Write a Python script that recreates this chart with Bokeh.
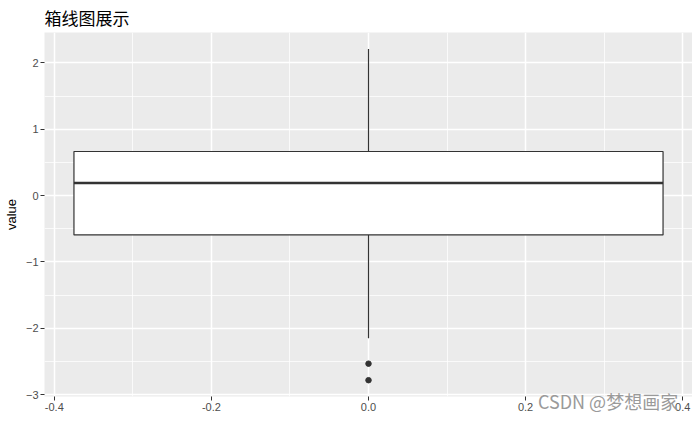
from bokeh.plotting import figure
from bokeh.models import ColumnDataSource, FixedTicker, Range1d, LinearAxis
from bokeh.embed import file_html
from bokeh.resources import INLINE

# ---- data ----
group_x = [0.0]
box_half_width = [0.375]
q1 = [-0.593]
median = [0.19]
q3 = [0.665]
whisker_low = [-2.15]
whisker_high = [2.21]
outlier_x = [0.0, 0.0]
outlier_y = [-2.535, -2.784]

x_major = [-0.4, -0.2, 0.0, 0.2, 0.4]
x_minor = [-0.3, -0.1, 0.1, 0.3]
y_major = [-3, -2, -1, 0, 1, 2]
y_minor = [-2.5, -1.5, -0.5, 0.5, 1.5]

title_text = "箱线图展示"
y_label = "value"
watermark = "CSDN @梦想画家"
watermark_at = 0.305

left = [x - w for x, w in zip(group_x, box_half_width)]
right = [x + w for x, w in zip(group_x, box_half_width)]
box_src = ColumnDataSource(dict(x=group_x, left=left, right=right, q1=q1, q3=q3,
                                med=median, lo=whisker_low, hi=whisker_high))
out_src = ColumnDataSource(dict(x=outlier_x, y=outlier_y))

p = figure(width=692, height=416, output_backend="svg", toolbar_location=None,
           x_range=Range1d(-0.4125, 0.4125), y_range=Range1d(-3.03, 2.46),
           min_border_left=35, min_border_right=0, min_border_top=0, min_border_bottom=0)

p.background_fill_color = "#EBEBEB"
p.border_fill_color = "white"
p.outline_line_color = None

# title
p.title.text = title_text
p.title.text_font = "Noto Sans CJK SC"
p.title.text_font_size = "17px"
p.title.text_font_style = "normal"
p.title.text_color = "#000000"
p.title.align = "left"
p.title.standoff = 5

# axes
for ax in (p.xaxis, p.yaxis):
    ax.axis_line_color = None
    ax.major_tick_line_color = "#333333"
    ax.major_tick_in = 0
    ax.major_tick_out = 4
    ax.minor_tick_line_color = None
    ax.major_label_text_font = "Liberation Sans"
    ax.major_label_text_font_size = "11px"
    ax.major_label_text_color = "#4D4D4D"
    ax.major_label_standoff = 2

p.yaxis.major_label_text_line_height = 0.5
p.xaxis.ticker = FixedTicker(ticks=x_major, minor_ticks=x_minor)
p.yaxis.ticker = FixedTicker(ticks=y_major, minor_ticks=y_minor)
p.xaxis.major_label_overrides = {v: f"{v:.1f}" for v in x_major}
p.yaxis.axis_label = y_label
p.yaxis.axis_label_text_font = "Liberation Sans"
p.yaxis.axis_label_text_font_size = "13px"
p.yaxis.axis_label_text_font_style = "normal"
p.yaxis.axis_label_text_color = "#000000"
p.yaxis.axis_label_standoff = 4

# watermark: a tickless extra axis whose single label is pulled up over the tick-label row
wm_axis = LinearAxis(ticker=FixedTicker(ticks=[watermark_at], minor_ticks=[]),
                     major_label_overrides={watermark_at: watermark},
                     axis_line_color=None, major_tick_line_color=None, minor_tick_line_color=None,
                     major_tick_in=0, major_tick_out=0,
                     major_label_standoff=-26,
                     major_label_text_font="Noto Sans CJK SC",
                     major_label_text_font_size="18px",
                     major_label_text_color="#9A9A9A")
p.add_layout(wm_axis, "below")

# grids
for g in (p.xgrid, p.ygrid):
    g.grid_line_color = "white"
    g.grid_line_width = 1.5
    g.minor_grid_line_color = "white"
    g.minor_grid_line_width = 0.75

# whiskers
p.segment(x0="x", y0="q3", x1="x", y1="hi", source=box_src, line_color="#333333", line_width=1.2)
p.segment(x0="x", y0="q1", x1="x", y1="lo", source=box_src, line_color="#333333", line_width=1.2)
# box
p.quad(left="left", right="right", bottom="q1", top="q3", source=box_src,
       fill_color="white", line_color="#333333", line_width=1.2)
# median
p.segment(x0="left", y0="med", x1="right", y1="med", source=box_src, line_color="#333333", line_width=2.4)
# outliers
p.scatter(x="x", y="y", source=out_src, size=5.5, color="#333333")

open("out.html", "w").write(file_html(p, INLINE))
